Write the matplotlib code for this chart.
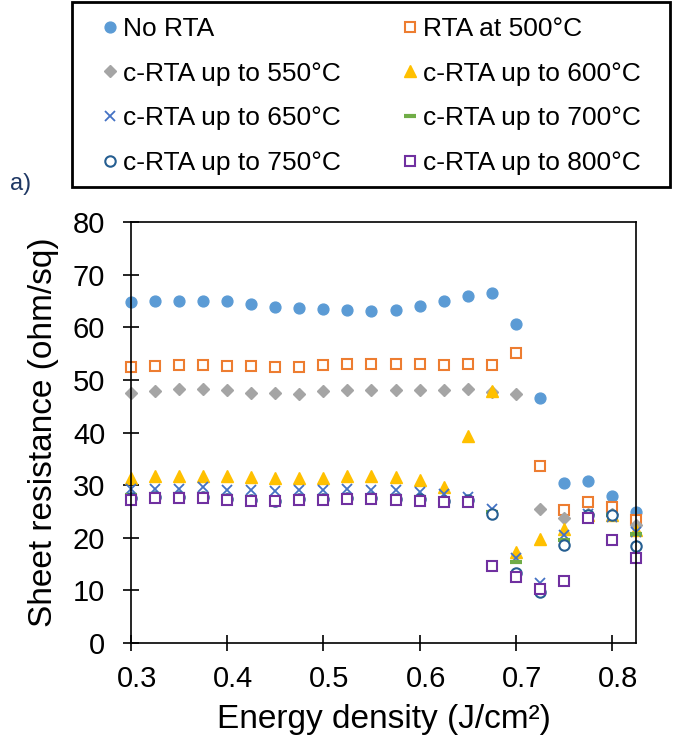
import matplotlib.pyplot as plt
from matplotlib.patches import Rectangle
from matplotlib.transforms import ScaledTranslation

plt.rcParams['font.family'] = ['Liberation Sans', 'DejaVu Sans']

# energy density (J/cm2)
energy = [0.3, 0.325, 0.35, 0.375, 0.4, 0.425, 0.45, 0.475, 0.5, 0.525, 0.55,
          0.575, 0.6, 0.625, 0.65, 0.675, 0.7, 0.725, 0.75, 0.775, 0.8, 0.825]

no_rta = [64.8, 64.9, 65.0, 64.9, 64.9, 64.5, 63.8, 63.6, 63.5, 63.3, 63.0,
          63.3, 64.1, 64.9, 66.0, 66.5, 60.7, 46.6, 30.4, 30.7, 27.9, 24.9]
rta_500 = [52.5, 52.7, 52.8, 52.8, 52.7, 52.7, 52.4, 52.5, 52.8, 53.1, 53.1,
           53.1, 53.1, 52.9, 53.1, 52.8, 55.1, 33.6, 25.3, 26.8, 25.8, 23.3]
crta_550 = [47.6, 47.8, 48.2, 48.3, 48.0, 47.6, 47.5, 47.4, 47.8, 48.0, 48.1,
            48.1, 48.0, 48.0, 48.3, 47.7, 47.3, 25.5, 23.7, 24.6, 24.6, 22.4]
crta_600 = [31.3, 31.7, 31.7, 31.8, 31.8, 31.5, 31.3, 31.3, 31.3, 31.7, 31.7,
            31.6, 30.9, 29.6, 39.4, 47.9, 17.2, 19.8, 21.7, 24.3, 24.3, 21.4]
crta_650 = [29.3, 29.3, 29.3, 29.6, 29.1, 29.0, 28.8, 29.0, 29.1, 29.3, 29.1,
            29.1, 28.7, 28.4, 27.7, 25.5, 16.2, 11.4, 20.5, 24.6, 23.9, 21.1]
crta_700 = [28.2, 28.4, 28.3, 28.4, 28.0, 27.8, 27.5, 27.8, 28.0, 28.0, 28.0,
            27.9, 27.8, 27.4, 27.3, 24.8, 15.3, 10.0, 19.5, 24.3, 24.4, 20.8]
crta_750 = [27.6, 27.8, 27.8, 27.7, 27.3, 27.1, 27.0, 27.3, 27.4, 27.5, 27.6,
            27.3, 27.3, 27.0, 27.1, 24.6, 13.3, 9.7, 18.6, 24.4, 24.4, 18.4]
crta_800 = [27.2, 27.6, 27.6, 27.5, 27.1, 26.9, 26.9, 27.1, 27.2, 27.3, 27.3,
            27.1, 27.0, 26.7, 26.8, 14.6, 12.6, 10.2, 11.8, 23.8, 19.5, 16.2]

labels = ['No RTA', 'RTA at 500°C', 'c-RTA up to 550°C', 'c-RTA up to 600°C',
          'c-RTA up to 650°C', 'c-RTA up to 700°C', 'c-RTA up to 750°C',
          'c-RTA up to 800°C']
series = [no_rta, rta_500, crta_550, crta_600, crta_650, crta_700, crta_750, crta_800]

# marker styles: (marker, size, face, edge, edge width)
styles = [
    ('o', 7.8, '#5B9BD5', '#5B9BD5', 1.0),
    ('s', 7.5, 'white', '#ED7D31', 1.5),
    ('D', 6.0, '#A5A5A5', '#A5A5A5', 1.0),
    ('^', 8.0, '#FFC000', '#FFC000', 1.0),
    ('x', 7.0, '#4472C4', '#4472C4', 1.3),
    ('_', 8.0, '#70AD47', '#70AD47', 3.0),
    ('o', 7.5, 'white', '#255E91', 1.5),
    ('s', 7.5, 'white', '#7030A0', 1.5),
]

fig = plt.figure(figsize=(6.77, 7.42), dpi=100)
ax = fig.add_axes([131 / 677, 1 - 643 / 742, 505 / 677, 421 / 742])

handles = []
for vals, lab, (m, ms, fc, ec, mew) in zip(series, labels, styles):
    h, = ax.plot(energy, vals, linestyle='none', marker=m, markersize=ms,
                 markerfacecolor=fc, markeredgecolor=ec, markeredgewidth=mew,
                 label=lab, clip_on=False)
    handles.append(h)

ax.set_xlim(0.3, 0.825)
ax.set_ylim(0, 80)
ax.set_xticks([0.3, 0.4, 0.5, 0.6, 0.7, 0.8])
ax.set_yticks(range(0, 81, 10))
ax.tick_params(direction='inout', length=11, width=1.2, labelsize=21)
ax.tick_params(axis='x', pad=10)
ax.tick_params(axis='y', pad=13)
for sp in ax.spines.values():
    sp.set_linewidth(1.2)
offset = ScaledTranslation(6 / 100, 0, fig.dpi_scale_trans)
for lbl in ax.get_xticklabels():
    lbl.set_transform(lbl.get_transform() + offset)

ax.set_xlabel('Energy density (J/cm²)', fontsize=24, labelpad=8)
ax.set_ylabel('Sheet resistance (ohm/sq)', fontsize=24, labelpad=10)

# legend: two single-column legends inside one drawn frame
leg_kw = dict(loc='upper left', fontsize=19, frameon=False, handlelength=0.5,
              handletextpad=0.25, borderpad=0, borderaxespad=0, labelspacing=0.78)
leg1 = fig.legend([handles[i] for i in (0, 2, 4, 6)], [labels[i] for i in (0, 2, 4, 6)],
                  bbox_to_anchor=(103 / 677, 1 - 17 / 742), **leg_kw)
leg2 = fig.legend([handles[i] for i in (1, 3, 5, 7)], [labels[i] for i in (1, 3, 5, 7)],
                  bbox_to_anchor=(403 / 677, 1 - 17 / 742), **leg_kw)
fig.add_artist(Rectangle((72 / 677, 1 - 187 / 742), 598 / 677, 185 / 742,
                         transform=fig.transFigure, fill=False, lw=2.0, ec='black'))

fig.text(10 / 677, 1 - 184 / 742, 'a)', fontsize=17, color='#1F3864', va='center')

fig.savefig('out.png', dpi=100)
